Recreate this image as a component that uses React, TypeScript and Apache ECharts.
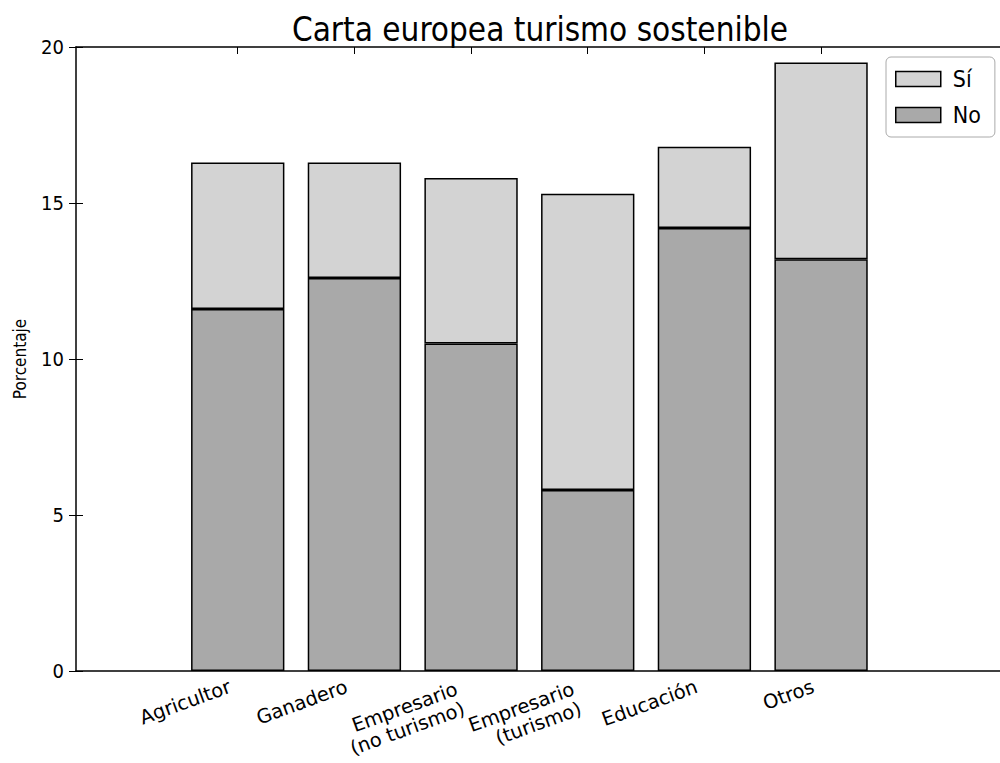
import React, { useEffect, useRef } from "react";
import * as echarts from "echarts";

const categories = [
  "Agricultor",
  "Ganadero",
  "Empresario\n(no turismo)",
  "Empresario\n(turismo)",
  "Educación",
  "Otros",
];
const noValues = [11.6, 12.6, 10.5, 5.8, 14.2, 13.2];
const siValues = [4.7, 3.7, 5.3, 9.5, 2.6, 6.3];
const yTicks = [0, 5, 10, 15, 20];

const FONT = "'DejaVu Sans Condensed', 'DejaVu Sans', sans-serif";
const FONT_REG = "'DejaVu Sans', sans-serif";

export default function App() {
  const ref = useRef<HTMLDivElement>(null);
  useEffect(() => {
    if (!ref.current) return;
    const chart = echarts.init(ref.current, undefined, { renderer: "svg" });
    const yMin = yTicks[0];
    const yMax = yTicks[yTicks.length - 1];
    const yInt = yTicks[1] - yTicks[0];
    const labelStyle = {
      verticalAlign: "top",
      fontFamily: FONT_REG,
      fontSize: 19.5,
      lineHeight: 21,
      color: "#000",
    };
    const categoryItems = categories.map((c) => ({
      value: c,
      textStyle: {
        ...labelStyle,
        padding: c.indexOf("\n") >= 0 ? [0, 19, 0, 0] : [0, 12, 0, 0],
      },
    }));
    const option: any = {
      animation: false,
      backgroundColor: "#fff",
      textStyle: { fontFamily: FONT },
      graphic: [
        {
          type: "text",
          x: 540,
          y: 13,
          style: {
            text: "Carta europea turismo sostenible",
            textAlign: "center",
            textVerticalAlign: "top",
            fontFamily: FONT,
            fontSize: 33,
            fill: "#000",
          },
        },
      ],
      legend: {
        orient: "vertical",
        left: 886,
        top: 57,
        data: ["Sí", "No"],
        itemWidth: 45,
        itemHeight: 15,
        itemGap: 10,
        padding: [9, 14, 9, 9],
        borderColor: "#aaa",
        borderWidth: 1,
        borderRadius: 5,
        backgroundColor: "#fff",
        icon: "rect",
        itemStyle: { borderColor: "#000", borderWidth: 1.5 },
        textStyle: {
          fontFamily: FONT,
          fontSize: 23,
          lineHeight: 26,
          color: "#000",
          padding: [0, 0, 0, 7],
        },
      },
      grid: [
        { left: 76, width: 927, top: 47, bottom: 92, show: false, containLabel: false, outerBoundsMode: "none" },
        { left: 179.4, width: 700, top: 47, bottom: 92, show: false, containLabel: false, outerBoundsMode: "none" },
      ],
      xAxis: [
        {
          gridIndex: 0,
          type: "value",
          min: 0,
          max: 1,
          axisLine: { show: true, onZero: false, lineStyle: { color: "#000", width: 1.5 } },
          axisTick: { show: false },
          axisLabel: { show: false },
          splitLine: { show: false },
        },
        {
          gridIndex: 0,
          type: "value",
          position: "top",
          min: 0,
          max: 1,
          axisLine: { show: true, onZero: false, lineStyle: { color: "#000", width: 1.5 } },
          axisTick: { show: false },
          axisLabel: { show: false },
          splitLine: { show: false },
        },
        {
          gridIndex: 1,
          type: "category",
          data: categoryItems,
          axisLine: { show: false },
          axisTick: {
            show: true,
            inside: true,
            alignWithLabel: true,
            length: 7,
            lineStyle: { color: "#000", width: 1 },
          },
          axisLabel: {
            rotate: 20,
            margin: 1,
            interval: 0,
            padding: [0, 12, 0, 0],
            ...labelStyle,
          },
          splitLine: { show: false },
        },
        {
          gridIndex: 1,
          type: "category",
          position: "top",
          data: categories,
          axisLine: { show: false },
          axisTick: {
            show: true,
            inside: true,
            alignWithLabel: true,
            length: 7,
            lineStyle: { color: "#000", width: 1 },
          },
          axisLabel: { show: false },
          splitLine: { show: false },
        },
      ],
      yAxis: [
        {
          gridIndex: 0,
          type: "value",
          min: yMin,
          max: yMax,
          interval: yInt,
          name: "Porcentaje",
          nameLocation: "middle",
          nameGap: 48,
          nameRotate: 90,
          nameTextStyle: { fontFamily: FONT, fontSize: 17, color: "#000" },
          axisLine: { show: true, onZero: false, lineStyle: { color: "#000", width: 1.5 } },
          axisTick: { show: true, inside: true, length: 7, lineStyle: { color: "#000", width: 1 } },
          axisLabel: { fontFamily: FONT, fontSize: 20, color: "#000", margin: 12 },
          splitLine: { show: false },
        },
        {
          gridIndex: 0,
          type: "value",
          position: "right",
          min: yMin,
          max: yMax,
          interval: yInt,
          axisLine: { show: false },
          axisTick: { show: true, inside: true, length: 7, lineStyle: { color: "#000", width: 1 } },
          axisLabel: { show: false },
          splitLine: { show: false },
        },
        {
          gridIndex: 1,
          type: "value",
          min: yMin,
          max: yMax,
          interval: yInt,
          show: false,
          splitLine: { show: false },
        },
      ],
      series: [
        {
          name: "No",
          type: "bar",
          stack: "total",
          xAxisIndex: 2,
          yAxisIndex: 2,
          data: noValues,
          barWidth: "80%",
          itemStyle: { color: "#a9a9a9", borderColor: "#000", borderWidth: 1.5 },
        },
        {
          name: "Sí",
          type: "bar",
          stack: "total",
          xAxisIndex: 2,
          yAxisIndex: 2,
          data: siValues,
          barWidth: "80%",
          itemStyle: { color: "#d3d3d3", borderColor: "#000", borderWidth: 1.5 },
        },
      ],
    };
    chart.setOption(option);
    return () => chart.dispose();
  }, []);
  return (
    <div
      ref={ref}
      style={{ position: "fixed", left: 0, top: 0, width: 1000, height: 763, background: "#fff" }}
    />
  );
}
